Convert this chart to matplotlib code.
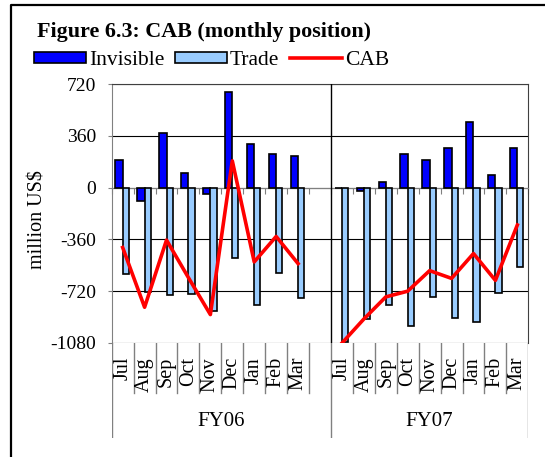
import numpy as np
import matplotlib
matplotlib.use('Agg')
import matplotlib.pyplot as plt
from matplotlib.lines import Line2D
from matplotlib.patches import Patch

plt.rcParams['font.family'] = ['Liberation Serif', 'DejaVu Serif']
plt.rcParams['axes.unicode_minus'] = False

months = ['Jul', 'Aug', 'Sep', 'Oct', 'Nov', 'Dec', 'Jan', 'Feb', 'Mar']
years = ['FY06', 'FY07']

fy06_invisible = [196, -94, 383, 105, -42, 669, 302, 236, 222]
fy06_trade = [-603, -726, -751, -740, -856, -487, -819, -594, -768]
fy06_cab = [-417, -833, -365, -627, -884, 187, -517, -340, -529]

fy07_invisible = [0, -24, 39, 236, 196, 276, 458, 91, 276]
fy07_trade = [-1076, -912, -814, -961, -763, -908, -933, -737, -554]
fy07_cab = [-1083, -915, -761, -721, -578, -632, -459, -646, -260]

# FY06 gets an empty slot after Mar, like the original chart
gap = [np.nan]
invisible = np.array(fy06_invisible + gap + fy07_invisible, dtype=float)
trade = np.array(fy06_trade + gap + fy07_trade, dtype=float)
cab = np.array(fy06_cab + gap + fy07_cab, dtype=float)
labels = months + [''] + months
x = np.arange(len(labels))

W, H = 545, 457
fig = plt.figure(figsize=(W / 100, H / 100), dpi=100)

left, right, top, bottom = 111.7, 528.3, 84.3, 342.7
ax = fig.add_axes([left / W, 1 - bottom / H, (right - left) / W, (bottom - top) / H])

ax.bar(x - 0.33, invisible, 0.33, align='edge', color='#0000FF',
       edgecolor='black', linewidth=1.2, zorder=3)
ax.bar(x, trade, 0.28, align='edge', color='#99CCFF',
       edgecolor='black', linewidth=1.2, zorder=3)
ax.plot(x, cab, color='#FF0000', linewidth=2.6, zorder=5)

ax.set_xlim(-0.5, len(labels) - 0.5)
ax.set_ylim(-1080, 720)
ax.set_yticks(np.arange(-1080, 721, 360))
ax.tick_params(axis='y', labelsize=14, length=3, pad=8, color='#808080')
ax.yaxis.grid(True, color='black', linewidth=0.8)
ax.set_axisbelow(True)

# category axis crosses at zero, ticks between slots
ax.spines['bottom'].set_position(('data', 0))
ax.spines['bottom'].set_color('#808080')
ax.set_xticks(np.arange(-0.5, len(labels), 1.0))
ax.tick_params(axis='x', length=4.5, direction='out', color='#808080',
               labelbottom=False)
ax.spines['left'].set_color('#808080')
ax.spines['top'].set_color('#404040')
ax.spines['right'].set_color('#404040')
ax.axvline(9.5, color='black', linewidth=1, zorder=4)

# multi-level category labels under the plot
lab_bottom = 438
lab = fig.add_axes([left / W, 1 - lab_bottom / H, (right - left) / W,
                    (lab_bottom - bottom) / H])
lab.set_xlim(ax.get_xlim())
lab.set_ylim(0, 1)
lab.axis('off')
month_cut = (lab_bottom - 393) / (lab_bottom - bottom)
for b in np.arange(-0.5, len(labels), 1.0):
    if b in (-0.5, 9.5, len(labels) - 0.5):
        lab.axvline(b, 0, 1, color='#808080', linewidth=1)
    else:
        lab.axvline(b, month_cut, 1, color='#808080', linewidth=1)
for xi, name in zip(x, labels):
    if name:
        lab.text(xi, 0.85, name, rotation=90, ha='center', va='top', fontsize=14.5)
lab.text(4.5, 0.17, years[0], ha='center', va='center', fontsize=15)
lab.text(14, 0.17, years[1], ha='center', va='center', fontsize=15)

fig.text(38.5 / W, 1 - 220 / H, 'million US$', rotation=90,
         ha='center', va='center', fontsize=14.5)

fig.text(36.7 / W, 1 - 36.7 / H, 'Figure 6.3: CAB (monthly position)',
         fontsize=15.8, fontweight='bold', ha='left', va='baseline')

handles = [Patch(facecolor='#0000FF', edgecolor='black', linewidth=1.2),
           Patch(facecolor='#99CCFF', edgecolor='black', linewidth=1.2),
           Line2D([], [], color='#FF0000', linewidth=2.6)]
fig.legend(handles, ['Invisible', 'Trade', 'CAB'], ncol=3, frameon=False,
           loc='center left', bbox_to_anchor=(34 / W, 1 - 60.5 / H),
           fontsize=15.5, handlelength=2.4, handleheight=0.45,
           handletextpad=0.15, columnspacing=0.5, borderpad=0, borderaxespad=0)

# outer frame of the figure box
fig.add_artist(Line2D([11 / W, 11 / W, 1], [0, 1 - 4.5 / H, 1 - 4.5 / H],
                      transform=fig.transFigure, color='black', linewidth=1.6))

fig.savefig('out.png', dpi=100)
